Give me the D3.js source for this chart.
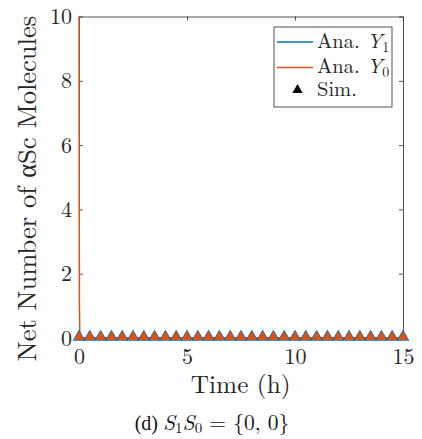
<!DOCTYPE html>
<html>
<head>
<meta charset="utf-8">
<script src="https://cdn.jsdelivr.net/npm/d3@7"></script>
<style>
  html, body { margin: 0; padding: 0; background: #fff; }
  svg { display: block; }
</style>
</head>
<body>
<svg id="chart" width="422" height="439" font-family="Latin Modern Roman, serif"></svg>
<script>
// Analytic curves
const anaY1Time = [0, 15];
const anaY1Value = [0, 0];
const anaY0Time = [0, 0.01, 0.02, 0.04, 15];
const anaY0Value = [10, 4, 1, 0, 0];

// Simulation samples (every half hour)
const simTime = [0, 0.5, 1, 1.5, 2, 2.5, 3, 3.5, 4, 4.5, 5, 5.5, 6, 6.5, 7, 7.5,
                 8, 8.5, 9, 9.5, 10, 10.5, 11, 11.5, 12, 12.5, 13, 13.5, 14, 14.5, 15];
const simY1 = [0, 0, 0, 0, 0, 0, 0, 0, 0, 0, 0, 0, 0, 0, 0, 0,
               0, 0, 0, 0, 0, 0, 0, 0, 0, 0, 0, 0, 0, 0, 0];
const simY0 = [0, 0, 0, 0, 0, 0, 0, 0, 0, 0, 0, 0, 0, 0, 0, 0,
               0, 0, 0, 0, 0, 0, 0, 0, 0, 0, 0, 0, 0, 0, 0];

const xTicks = [0, 5, 10, 15];
const yTicks = [0, 2, 4, 6, 8, 10];

const blue = "#0072BD";
const orange = "#D95319";
const axisColor = "#262626";
const FONT = "Latin Modern Roman, serif";

const svg = d3.select("#chart");
const m = { left: 79, right: 403, top: 16.5, bottom: 338 };

const x = d3.scaleLinear().domain([0, 15]).range([m.left, m.right]);
const y = d3.scaleLinear().domain([0, 10]).range([m.bottom, m.top]);

// Axes with inward ticks on all four sides
const tickLen = 4;
const gx = svg.append("g").attr("transform", `translate(0,${m.bottom})`)
  .call(d3.axisBottom(x).tickValues(xTicks).tickSizeInner(-tickLen).tickSizeOuter(0).tickPadding(12));
const gxTop = svg.append("g").attr("transform", `translate(0,${m.top})`)
  .call(d3.axisTop(x).tickValues(xTicks).tickSizeInner(-tickLen).tickSizeOuter(0).tickFormat(""));
const gy = svg.append("g").attr("transform", `translate(${m.left},0)`)
  .call(d3.axisLeft(y).tickValues(yTicks).tickSizeInner(-tickLen).tickSizeOuter(0).tickPadding(7));
const gyR = svg.append("g").attr("transform", `translate(${m.right},0)`)
  .call(d3.axisRight(y).tickValues(yTicks).tickSizeInner(-tickLen).tickSizeOuter(0).tickFormat(""));

[gx, gxTop, gy, gyR].forEach(g => {
  g.attr("font-family", FONT);
  g.select(".domain").attr("stroke", axisColor).attr("stroke-width", 0.8);
  g.selectAll(".tick line").attr("stroke", axisColor).attr("stroke-width", 0.8);
  g.selectAll(".tick text").attr("font-size", 22).attr("fill", axisColor)
    .attr("font-family", FONT);
});
gx.selectAll(".tick text").attr("dy", "0.64em");
gy.selectAll(".tick text").attr("dy", "0.32em");

// Curves
const line = d3.line().x(d => x(d[0])).y(d => y(d[1]));
svg.append("path")
  .datum(anaY1Time.map((t, i) => [t, anaY1Value[i]]))
  .attr("d", line).attr("fill", "none").attr("stroke", blue).attr("stroke-width", 1.5);
svg.append("path")
  .datum(anaY0Time.map((t, i) => [t, anaY0Value[i]]))
  .attr("d", line).attr("fill", "none").attr("stroke", orange).attr("stroke-width", 1.5);

// Simulation markers: blue-edged Y1 under orange-filled Y0
const tri = d3.symbol().type(d3.symbolTriangle);
svg.append("g").selectAll("path")
  .data(simTime.map((t, i) => [t, simY1[i]]))
  .join("path")
  .attr("d", tri.size(58)())
  .attr("transform", d => `translate(${x(d[0])},${y(d[1]) - 1})`)
  .attr("fill", blue).attr("stroke", blue).attr("stroke-width", 0.8);
svg.append("g").selectAll("path")
  .data(simTime.map((t, i) => [t, simY0[i]]))
  .join("path")
  .attr("d", tri.size(46)())
  .attr("transform", d => `translate(${x(d[0])},${y(d[1]) - 1})`)
  .attr("fill", orange);

// Axis labels
svg.append("text")
  .attr("x", 240.7).attr("y", 393)
  .attr("text-anchor", "middle").attr("font-size", 25.3).attr("fill", axisColor)
  .attr("font-family", FONT)
  .text("Time (h)");

svg.append("text")
  .attr("transform", `translate(36,188.5) rotate(-90)`)
  .attr("text-anchor", "middle").attr("font-size", 26.5).attr("fill", axisColor)
  .attr("font-family", FONT)
  .text("Net Number of αSc Molecules");

// Legend
const lg = svg.append("g").attr("font-family", FONT);
lg.append("rect").attr("x", 274).attr("y", 27).attr("width", 118).attr("height", 80)
  .attr("fill", "#fff").attr("stroke", axisColor).attr("stroke-width", 0.8);
const legendRows = [
  { y: 42, base: 48, kind: "line", color: blue, label: "Ana.", sym: "Y", sub: "1" },
  { y: 67.5, base: 73, kind: "line", color: orange, label: "Ana.", sym: "Y", sub: "0" },
  { y: 90, base: 96, kind: "marker", color: "#000", label: "Sim.", sym: null }
];
legendRows.forEach(r => {
  if (r.kind === "line") {
    lg.append("line").attr("x1", 277).attr("x2", 313).attr("y1", r.y).attr("y2", r.y)
      .attr("stroke", r.color).attr("stroke-width", 1.5);
  } else {
    lg.append("path").attr("d", d3.symbol().type(d3.symbolTriangle).size(45)())
      .attr("transform", `translate(297.5,${r.y})`).attr("fill", "#000");
  }
  const t = lg.append("text").attr("x", 317).attr("y", r.base).attr("font-size", 20.5)
    .attr("fill", axisColor).attr("font-family", FONT);
  t.append("tspan").text(r.label);
  if (r.sym) {
    t.append("tspan").attr("font-style", "italic").attr("x", 367).text(r.sym);
    t.append("tspan").attr("font-size", 14).attr("dy", 4).text(r.sub);
  }
});

// Caption
const cap = svg.append("text").attr("x", 212).attr("y", 430)
  .attr("text-anchor", "middle").attr("font-size", 21.5).attr("fill", "#111")
  .attr("font-family", FONT);
cap.append("tspan").attr("font-family", "Liberation Serif, serif").attr("font-size", 20).text("(d) ");
cap.append("tspan").attr("font-style", "italic").text("S");
cap.append("tspan").attr("font-size", 15).attr("dy", 3).text("1");
cap.append("tspan").attr("font-style", "italic").attr("dy", -3).text("S");
cap.append("tspan").attr("font-size", 15).attr("dy", 3).text("0");
cap.append("tspan").attr("dy", -3).text(" = {0, 0}");
</script>
</body>
</html>
